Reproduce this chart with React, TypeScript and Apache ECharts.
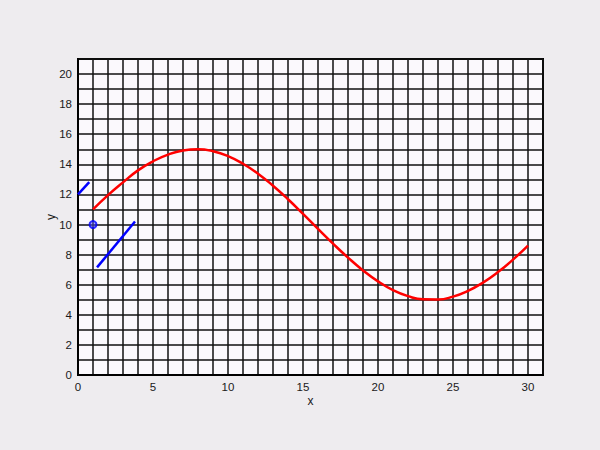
import React, { useEffect, useRef } from "react";
import * as echarts from "echarts";

const curveX = [1, 2, 3, 4, 5, 6, 7, 8, 9, 10, 11, 12, 13, 14, 15, 16, 17, 18, 19, 20, 21, 22, 23, 24, 25, 26, 27, 28, 29, 30];
const curveY = [11.0, 11.95, 12.8, 13.6, 14.2, 14.65, 14.92, 15.0, 14.87, 14.55, 14.04, 13.38, 12.58, 11.68, 10.71, 9.71, 8.73, 7.8, 6.95, 6.22, 5.64, 5.24, 5.03, 5.02, 5.21, 5.59, 6.14, 6.84, 7.67, 8.6];
const segA = [[0, 12.0], [0.75, 12.82]];
const segB = [[1.27, 7.15], [3.8, 10.2]];
const markerPoint = [[1, 10]];
const xMax = 31;
const yMax = 21;

export default function App() {
  const ref = useRef<HTMLDivElement>(null);
  useEffect(() => {
    const chart = echarts.init(ref.current!, null, { renderer: "svg" });
    const labelStyle = { color: "#1a1a1a", fontFamily: "Liberation Sans, Arial, sans-serif", fontSize: 11.5 };
    chart.setOption({
      animation: false,
      backgroundColor: "#eeecef",
      grid: {
        left: 78, right: 57, top: 59, bottom: 75,
        show: true, backgroundColor: "#fbf9fd", borderColor: "#000", borderWidth: 2,
      },
      xAxis: {
        type: "value", min: 0, max: xMax, interval: 1,
        name: "x", nameLocation: "middle", nameGap: 20, nameMoveOverlap: false,
        nameTextStyle: { ...labelStyle, fontSize: 12 },
        axisLine: { show: true, lineStyle: { color: "#000", width: 2 } },
        axisTick: { show: false },
        axisLabel: {
          ...labelStyle, margin: 6, interval: 0, showMaxLabel: false,
          formatter: (v: number) => (v % 5 === 0 ? String(v) : ""),
        },
        splitLine: { show: true, lineStyle: { color: "#111", width: 1.5 } },
      },
      yAxis: {
        type: "value", min: 0, max: yMax, interval: 1,
        name: "y", nameLocation: "middle", nameGap: 21, nameMoveOverlap: false,
        nameTextStyle: { ...labelStyle, fontSize: 12 },
        axisLine: { show: true, lineStyle: { color: "#000", width: 2 } },
        axisTick: { show: false },
        axisLabel: {
          ...labelStyle, margin: 6, interval: 0, showMaxLabel: false,
          formatter: (v: number) => (v % 2 === 0 ? String(v) : ""),
        },
        splitLine: { show: true, lineStyle: { color: "#111", width: 1.5 } },
      },
      series: [
        {
          type: "line", smooth: true, showSymbol: false,
          data: curveX.map((x, i) => [x, curveY[i]]),
          lineStyle: { color: "#ff0000", width: 2.5 },
        },
        {
          type: "line", showSymbol: false, data: segA,
          lineStyle: { color: "#0000ff", width: 2.5 },
        },
        {
          type: "line", showSymbol: false, data: segB,
          lineStyle: { color: "#0000ff", width: 2.5 },
        },
        {
          type: "scatter", data: markerPoint, symbol: "circle", symbolSize: 7,
          itemStyle: { color: "rgba(80,80,255,0.6)", borderColor: "#0000ff", borderWidth: 2 },
        },
      ],
    });
    return () => chart.dispose();
  }, []);
  return <div ref={ref} style={{ position: "absolute", left: 0, top: 0, width: 600, height: 450 }} />;
}
